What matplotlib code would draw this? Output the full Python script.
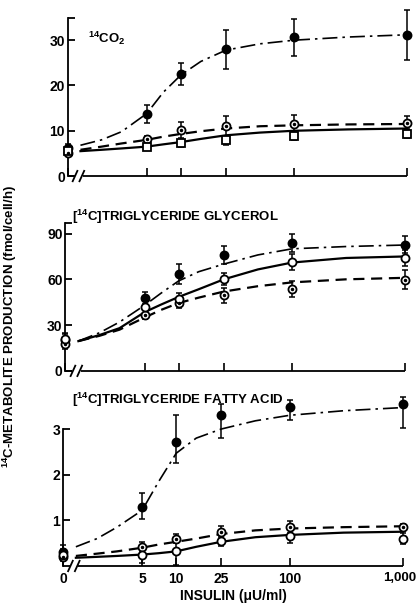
import matplotlib
matplotlib.use("Agg")
import matplotlib.pyplot as plt
import matplotlib.transforms as mtransforms
import numpy as np

plt.rcParams['font.family'] = ['Liberation Sans', 'DejaVu Sans']
plt.rcParams['font.weight'] = 'bold'
plt.rcParams['mathtext.fontset'] = 'custom'
plt.rcParams['mathtext.rm'] = 'Liberation Sans:bold'
plt.rcParams['mathtext.it'] = 'Liberation Sans:bold'
plt.rcParams['mathtext.bf'] = 'Liberation Sans:bold'

# insulin concentrations (µU/ml); 0 is drawn at the axis break
conc = [0, 5, 10, 25, 100, 1000]
conc_labels = ['0', '5', '10', '25', '100', '1,000']
curve_conc = [1.3, 2, 3, 5, 7, 10, 15, 25, 50, 100, 300, 1000]

# 14CO2
co2_filled = [6.2, 13.7, 22.5, 28.0, 30.6, 31.2]
co2_filled_err = [0.8, 2.0, 2.5, 4.3, 4.0, 5.5]
co2_dot = [5.0, 8.1, 10.2, 11.0, 11.4, 11.8]
co2_dot_err = [0.6, 0.8, 1.8, 2.2, 2.0, 1.5]
co2_open = [5.6, 6.5, 7.2, 7.9, 8.8, 9.3]
co2_open_err = [0.6, 0.7, 0.8, 1.0, 0.8, 0.8]
co2_curve_filled = [6.8, 8.0, 9.8, 13.8, 18.5, 22.3, 25.3, 27.8, 29.2, 30.0, 30.7, 31.2]
co2_curve_dot = [5.8, 6.5, 7.2, 8.0, 8.7, 9.3, 9.9, 10.5, 11.0, 11.2, 11.4, 11.5]
co2_curve_open = [5.5, 5.8, 6.1, 6.5, 7.0, 7.5, 8.2, 9.0, 9.6, 10.0, 10.3, 10.5]

# triglyceride glycerol
gly_filled = [20.0, 48.0, 63.7, 76.0, 84.0, 82.8]
gly_filled_err = [4.0, 4.0, 6.5, 6.0, 6.0, 5.5]
gly_dot = [17.5, 36.8, 44.4, 49.5, 53.6, 59.8]
gly_dot_err = [3.0, 3.0, 3.0, 5.0, 5.0, 6.0]
gly_open = [21.0, 41.8, 47.3, 60.4, 71.4, 74.0]
gly_open_err = [4.0, 4.0, 4.0, 4.0, 5.0, 5.0]
gly_curve_filled = [19.5, 25.0, 32.0, 43.0, 51.0, 59.0, 65.0, 70.0, 76.0, 80.0, 81.5, 82.5]
gly_curve_dot = [19.5, 23.0, 27.0, 35.0, 40.0, 44.5, 48.0, 52.0, 55.5, 58.0, 60.0, 61.0]
gly_curve_open = [19.5, 23.5, 28.0, 38.5, 43.5, 48.5, 53.5, 60.0, 66.5, 71.0, 74.0, 75.0]

# triglyceride fatty acid
fa_filled = [0.30, 1.30, 2.72, 3.30, 3.48, 3.55]
fa_filled_lo = [0.15, 0.27, 0.47, 0.50, 0.28, 0.52]
fa_filled_hi = [0.15, 0.30, 0.58, 0.25, 0.15, 0.15]
fa_dot = [0.20, 0.42, 0.60, 0.75, 0.85, 0.85]
fa_dot_err = [0.10, 0.10, 0.10, 0.12, 0.13, 0.08]
fa_open = [0.25, 0.24, 0.33, 0.55, 0.65, 0.60]
fa_open_err = [0.12, 0.18, 0.30, 0.12, 0.15, 0.12]
fa_curve_filled = [0.42, 0.60, 0.85, 1.22, 1.85, 2.47, 2.80, 3.00, 3.18, 3.30, 3.40, 3.47]
fa_curve_dot = [0.22, 0.27, 0.32, 0.40, 0.47, 0.53, 0.60, 0.70, 0.78, 0.82, 0.85, 0.87]
fa_curve_open = [0.18, 0.20, 0.22, 0.25, 0.28, 0.32, 0.42, 0.53, 0.63, 0.68, 0.73, 0.75]

xs = np.where(np.array(conc) == 0, 1, conc)

DASHDOT = (0, (9, 3, 1.5, 3))
DASHED = (0, (5, 3))


def series(ax, y, err, marker, mfc, dot_center, msize=5.8):
    ax.errorbar(xs, y, yerr=err, fmt='none', ecolor='black', elinewidth=1.1,
                capsize=2.5, capthick=1.1, clip_on=False, zorder=3)
    ax.plot(xs, y, linestyle='none', marker=marker, markersize=msize,
            mfc=mfc, mec='black', mew=1.3, clip_on=False, zorder=4)
    if dot_center:
        ax.plot(xs, y, linestyle='none', marker='o', markersize=1.5,
                mfc='black', mec='black', clip_on=False, zorder=5)


def panel(rect, ymax, yticks, cap, curves, points, open_marker):
    ax = fig.add_axes(rect)
    ax.set_xscale('log')
    ax.set_xlim(1, 1000)
    ax.set_ylim(0, ymax)
    c_filled, c_dot, c_open = curves
    ax.plot(curve_conc, c_filled, color='black', lw=1.2, linestyle=DASHDOT, zorder=2, clip_on=False)
    ax.plot(curve_conc, c_dot, color='black', lw=1.6, linestyle=DASHED, zorder=2, clip_on=False)
    ax.plot(curve_conc, c_open, color='black', lw=1.6, zorder=2, clip_on=False)
    (yf, ef), (yd, ed), (yo, eo) = points
    series(ax, yf, ef, 'o', 'black', False)
    series(ax, yd, ed, 'o', 'white', True)
    series(ax, yo, eo, open_marker, 'white', False, 5.2 if open_marker == 's' else 5.8)

    for s in ['top', 'right', 'bottom']:
        ax.spines[s].set_visible(False)
    ax.spines['left'].set_linewidth(1.3)
    ax.set_yticks(yticks + ([cap] if cap else []))
    ax.set_yticklabels([str(t) for t in yticks] + ([''] if cap else []))
    ax.tick_params(axis='y', direction='in', length=5, width=1.3, labelsize=10, pad=2)
    ax.set_xticks(xs)
    ax.xaxis.set_minor_locator(matplotlib.ticker.NullLocator())
    ax.tick_params(axis='x', direction='in', length=6, width=1.2, labelsize=10, pad=4)
    ax.set_xticklabels([])
    # x axis drawn with a break near zero
    tr = ax.transAxes
    kw = dict(color='black', lw=1.3, transform=tr, clip_on=False, solid_capstyle='butt')
    ax.plot([0, 0.02], [0, 0], **kw)
    ax.plot([0.045, 1], [0, 0], **kw)
    dy = 6 / (rect[3] * 605)
    for cx in (0.022, 0.042):
        ax.plot([cx - 0.008, cx + 0.008], [-dy, dy], **kw)
    return ax


fig = plt.figure(figsize=(4.17, 6.05), dpi=100)

ax1 = panel([0.162, 0.709, 0.815, 0.262], 35, [0, 10, 20, 30], 35,
            (co2_curve_filled, co2_curve_dot, co2_curve_open),
            ((co2_filled, co2_filled_err), (co2_dot, co2_dot_err), (co2_open, co2_open_err)), 's')
ax1.text(0.06, 0.87, r'$^{14}$CO$_2$', transform=ax1.transAxes, fontsize=9.5,
         fontweight='bold', va='center', ha='left')

ax2 = panel([0.157, 0.387, 0.815, 0.2446], 97, [0, 30, 60, 90], 97,
            (gly_curve_filled, gly_curve_dot, gly_curve_open),
            ((gly_filled, gly_filled_err), (gly_dot, gly_dot_err), (gly_open, gly_open_err)), 'o')
fig.text(72 / 417, 1 - 217 / 605, r'[$^{14}$C]TRIGLYCERIDE GLYCEROL', fontsize=9.5,
         fontweight='bold', va='center', ha='left')

ax3 = panel([0.151, 0.0645, 0.815, 0.2264], 3, [1, 2, 3], None,
            (fa_curve_filled, fa_curve_dot, fa_curve_open),
            ((fa_filled, [fa_filled_lo, fa_filled_hi]), (fa_dot, fa_dot_err), (fa_open, fa_open_err)), 'o')
ax3.set_xticklabels(conc_labels, fontweight='bold')
last = ax3.get_xticklabels()[-1]
last.set_fontsize(9.5)
last.set_transform(last.get_transform() + mtransforms.ScaledTranslation(-3 / 100, 0, fig.dpi_scale_trans))
fig.text(72 / 417, 1 - 400 / 605, r'[$^{14}$C]TRIGLYCERIDE FATTY ACID', fontsize=9.5,
         fontweight='bold', va='center', ha='left')
fig.text(233 / 417, 1 - 596 / 605, 'INSULIN (\u03bcU/ml)', fontsize=10,
         fontweight='bold', va='center', ha='center')

fig.text(0.024, 0.46, r'$^{14}$C-METABOLITE PRODUCTION (fmol/cell/h)', rotation=90,
         fontsize=9.5, fontweight='bold', va='center', ha='center')

fig.savefig('out.png', dpi=100)
